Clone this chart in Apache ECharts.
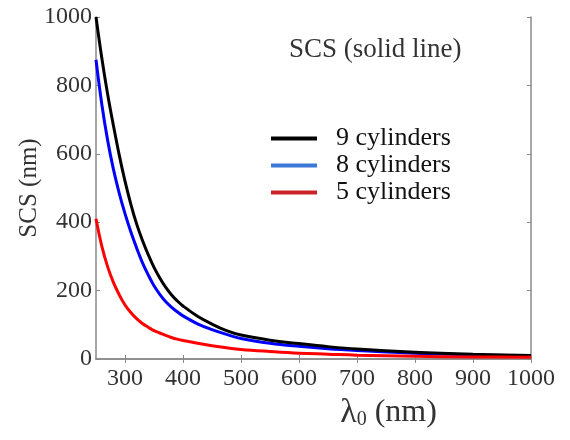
<!DOCTYPE html>
<html>
<head>
<meta charset="utf-8">
<script src="https://cdn.jsdelivr.net/npm/echarts@6/dist/echarts.min.js"></script>
<style>
  html, body { margin: 0; padding: 0; background: #fff; }
  #chart { width: 570px; height: 440px; }
</style>
</head>
<body>
<div id="chart"></div>
<script>
// wavelength (nm)
const lambda = [250, 260, 270, 280, 290, 300, 310, 320, 330, 340, 350, 360, 370, 380, 390, 400, 425, 450, 475, 500, 550, 600, 650, 700, 800, 900, 1000];
// SCS (nm)
const cyl9 = [1000, 880, 775, 683, 597, 520, 453, 395, 347, 305, 268, 237, 210, 188, 170, 155, 125, 102, 83, 70, 55, 45, 36, 29, 20, 14, 10];
const cyl8 = [875, 745, 640, 555, 485, 425, 372, 325, 282, 246, 214, 189, 168, 152, 138, 126, 103, 86, 72, 60, 46, 37, 30, 25, 17, 12, 9];
const cyl5 = [410, 330, 270, 224, 188, 158, 136, 118, 104, 93, 83, 76, 69, 63, 58, 54, 46, 39, 33, 28, 22, 17, 14, 11, 8, 6, 5];
const xTicks = [300, 400, 500, 600, 700, 800, 900, 1000];
const seriesNames = ['9 cylinders', '8 cylinders', '5 cylinders'];

const zip = (ys) => lambda.map((x, i) => [x, ys[i]]);
const serif = 'Liberation Serif';

let myEchart = echarts.init(document.getElementById('chart'));

const axisLine = { show: true, lineStyle: { color: '#8a8a8a', width: 1.5 } };
const tick = { show: true, inside: true, length: 4, lineStyle: { color: '#8a8a8a' } };
const xTick = Object.assign({ customValues: xTicks }, tick);

myEchart.setOption({
    animation: false,
    title: {
        text: 'SCS (solid line)',
        left: 289, top: 36, padding: 0,
        textStyle: { fontFamily: serif, fontSize: 27, fontWeight: 'normal', color: '#333' }
    },
    legend: {
        orient: 'vertical',
        left: 266, top: 120,
        itemWidth: 46, itemHeight: 4,
        itemGap: 0,
        icon: 'rect',
        textStyle: { fontFamily: serif, fontSize: 26, lineHeight: 27, color: '#111', padding: [0, 0, 0, 14] },
        data: [
            { name: seriesNames[0], itemStyle: { color: '#000' } },
            { name: seriesNames[1], itemStyle: { color: '#3d78d6' } },
            { name: seriesNames[2], itemStyle: { color: '#cc2229' } }
        ]
    },
    grid: { left: 96, right: 39, top: 17, bottom: 81 },
    xAxis: [{
        type: 'value', min: 250, max: 1000, interval: 50,
        axisLine: axisLine, axisTick: xTick, splitLine: { show: false },
        axisLabel: {
            fontFamily: serif, fontSize: 24, color: '#333', margin: 8,
            customValues: xTicks,
            formatter: (v) => String(v)
        },
        name: '{l|λ}{s|0} (nm)',
        nameLocation: 'middle', nameGap: 33,
        nameTextStyle: {
            fontFamily: serif, fontSize: 32, color: '#333', padding: [0, 0, 0, 150],
            rich: {
                l: { fontFamily: serif, fontSize: 34, color: '#333' },
                s: { fontFamily: serif, fontSize: 20, color: '#333', verticalAlign: 'bottom', padding: [14, 0, 0, 0] }
            }
        }
    }, {
        type: 'value', position: 'top', min: 250, max: 1000, interval: 50,
        axisLine: axisLine, axisTick: xTick, axisLabel: { show: false }, splitLine: { show: false }
    }],
    yAxis: [{
        type: 'value', min: 0, max: 1000, interval: 200,
        axisLine: axisLine, axisTick: tick, splitLine: { show: false },
        axisLabel: { fontFamily: serif, fontSize: 24, color: '#333', margin: 4, formatter: (v) => String(v) },
        name: 'SCS (nm)',
        nameLocation: 'middle', nameGap: 54, nameMoveOverlap: false,
        nameTextStyle: { fontFamily: serif, fontSize: 25, color: '#333' }
    }, {
        type: 'value', position: 'right', min: 0, max: 1000, interval: 200,
        axisLine: axisLine, axisTick: tick, axisLabel: { show: false }, splitLine: { show: false }
    }],
    series: [
        { name: seriesNames[0], type: 'line', data: zip(cyl9), color: '#000', showSymbol: false, smooth: 0.4, lineStyle: { width: 3, color: '#000' }, z: 3 },
        { name: seriesNames[1], type: 'line', data: zip(cyl8), color: '#0000ff', showSymbol: false, smooth: 0.4, lineStyle: { width: 3, color: '#0000ff' }, z: 2 },
        { name: seriesNames[2], type: 'line', data: zip(cyl5), color: '#ff0000', showSymbol: false, smooth: 0.4, lineStyle: { width: 3, color: '#ff0000' }, z: 4 }
    ]
});
</script>
</body>
</html>
